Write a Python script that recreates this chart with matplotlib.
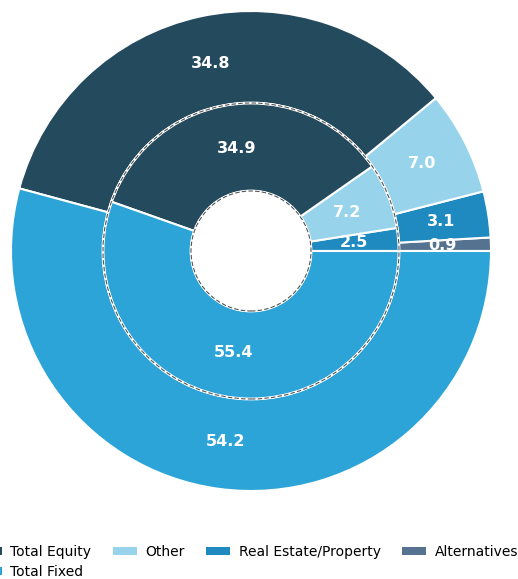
import numpy as np
import matplotlib.pyplot as plt
from matplotlib.patches import Circle, Patch

categories = ['Total Equity', 'Total Fixed', 'Other', 'Real Estate/Property', 'Alternatives']
colors = {'Total Equity': '#244a5d', 'Total Fixed': '#2ca4d7', 'Other': '#98d3ec',
          'Real Estate/Property': '#1f8ac0', 'Alternatives': '#557390'}

# counter-clockwise from 3 o'clock
ring_order = ['Alternatives', 'Real Estate/Property', 'Other', 'Total Equity', 'Total Fixed']
outer_vals = [0.9, 3.1, 7.0, 34.8, 54.2]
inner_vals = [0.0, 2.5, 7.2, 34.9, 55.4]

W, H = 518, 579
cx, cy, R = 251, 251, 240
fig = plt.figure(figsize=(W / 100, H / 100), dpi=100)
ax = fig.add_axes([(cx - R) / W, (H - cy - R) / H, 2 * R / W, 2 * R / H])

r_out = 1.0
r_mid = 148 / R
r_hole = 60 / R
cols = [colors[c] for c in ring_order]

w_out, _ = ax.pie(outer_vals, radius=r_out, colors=cols, startangle=0, counterclock=True,
                  wedgeprops=dict(width=r_out - r_mid, edgecolor='white', linewidth=1.5))
w_in, _ = ax.pie(inner_vals, radius=r_mid, colors=cols, startangle=0, counterclock=True,
                 wedgeprops=dict(width=r_mid - r_hole, edgecolor='white', linewidth=1.5))

for r in (r_mid, r_hole):
    ax.add_patch(Circle((0, 0), r, fill=False, edgecolor='white', lw=2.0, zorder=3))
    ax.add_patch(Circle((0, 0), r, fill=False, edgecolor='#555555', lw=0.8,
                        ls=(0, (4, 2)), zorder=4))


def put_labels(wedges, vals, dist):
    for w, v in zip(wedges, vals):
        if v <= 0:
            continue
        a = np.deg2rad((w.theta1 + w.theta2) / 2)
        ax.text(dist * np.cos(a), dist * np.sin(a), f'{v:.1f}', color='white',
                fontsize=11.5, fontweight='bold', ha='center', va='center', zorder=5)


put_labels(w_out, outer_vals, 0.80)
put_labels(w_in, inner_vals, 0.43)

ax.set_xlim(-1, 1)
ax.set_ylim(-1, 1)
ax.set_aspect('equal')
ax.axis('off')

handles = [Patch(facecolor=colors[c], edgecolor='none') for c in categories]
fig.legend(handles, categories, loc='upper left', bbox_to_anchor=(-22 / W, 1 - 545 / H),
           ncol=4, frameon=False, fontsize=10, handlelength=1.75, handleheight=0.5,
           handletextpad=0.58, columnspacing=1.55, borderpad=0, borderaxespad=0,
           labelspacing=0.42)

fig.savefig('out.png', dpi=100)
